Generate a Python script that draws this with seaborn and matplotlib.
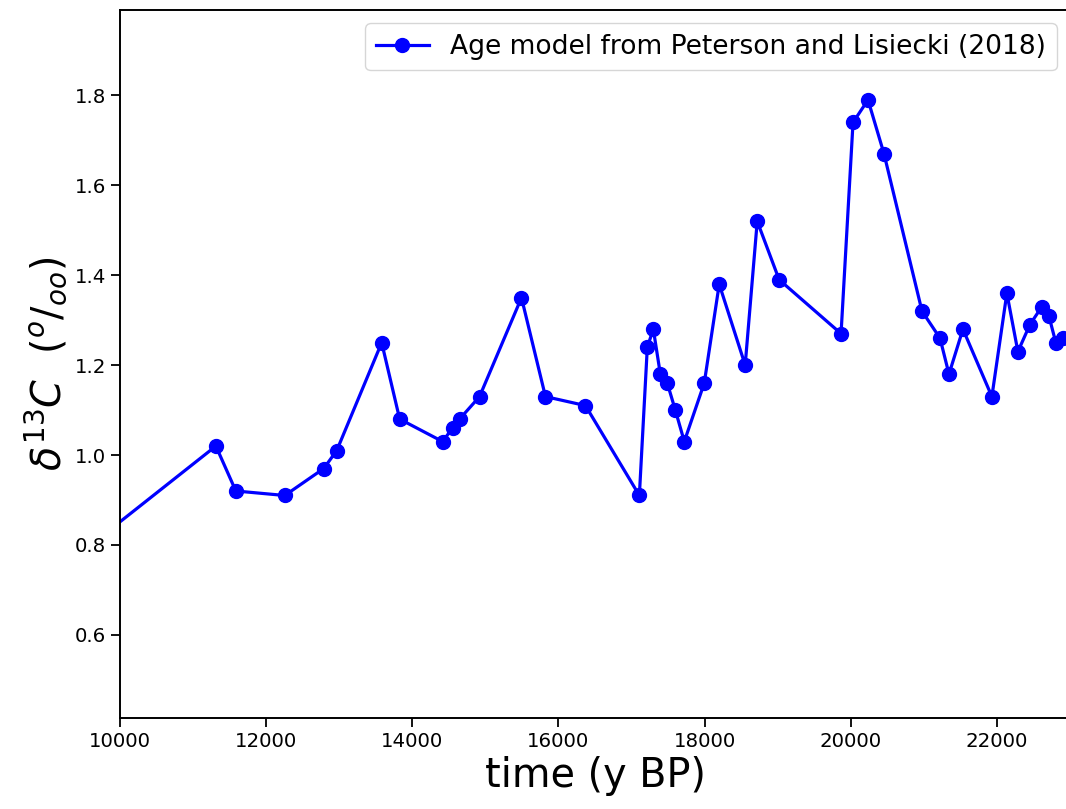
import numpy as np
import pandas as pd
import matplotlib
matplotlib.use("Agg")
import matplotlib.pyplot as plt
import seaborn as sns

# Edad (y BP) y d13C
edad = [9600, 11312, 11585, 12255, 12788, 12966, 13581, 13827, 14414, 14551,
        14647, 14920, 15494, 15822, 16369, 17107, 17216, 17298, 17394, 17489,
        17599, 17722, 17995, 18200, 18555, 18720, 19020, 19867, 20031, 20236,
        20455, 20975, 21221, 21344, 21535, 21931, 22136, 22287, 22451, 22615,
        22710, 22806, 22902, 23120]
d13c = [0.80, 1.02, 0.92, 0.91, 0.97, 1.01, 1.25, 1.08, 1.03, 1.06,
        1.08, 1.13, 1.35, 1.13, 1.11, 0.91, 1.24, 1.28, 1.18, 1.16,
        1.10, 1.03, 1.16, 1.38, 1.20, 1.52, 1.39, 1.27, 1.74, 1.79,
        1.67, 1.32, 1.26, 1.18, 1.28, 1.13, 1.36, 1.23, 1.29, 1.33,
        1.31, 1.25, 1.26, 1.30]
etiqueta = "Age model from Peterson and Lisiecki (2018)"

df = pd.DataFrame({"edad": edad, "d13c": d13c})

fig = plt.figure(figsize=(10.66, 8.09), dpi=100)
ax = fig.add_axes([120 / 1066, 91 / 809, 950 / 1066, 708 / 809])

sns.lineplot(data=df, x="edad", y="d13c", ax=ax, estimator=None, sort=False,
             color="blue", linewidth=2.3, marker="o", markersize=10,
             markeredgecolor="blue", markeredgewidth=1, label=etiqueta)

ax.set_xlim(10000, 23000)
ax.set_ylim(0.415, 1.99)
ax.set_yticks([0.6, 0.8, 1.0, 1.2, 1.4, 1.6, 1.8])
ax.tick_params(labelsize=14.2, length=6.5, width=1.3)
for s in ax.spines.values():
    s.set_linewidth(1.4)

ax.set_xlabel("time (y BP)", fontsize=28.6)
ax.set_ylabel(r"$\delta^{13}C\ \ (^{o}/_{oo})$", fontsize=28.6)
ax.legend(loc="upper right", fontsize=19.1)

fig.savefig("out.png", dpi=100)
